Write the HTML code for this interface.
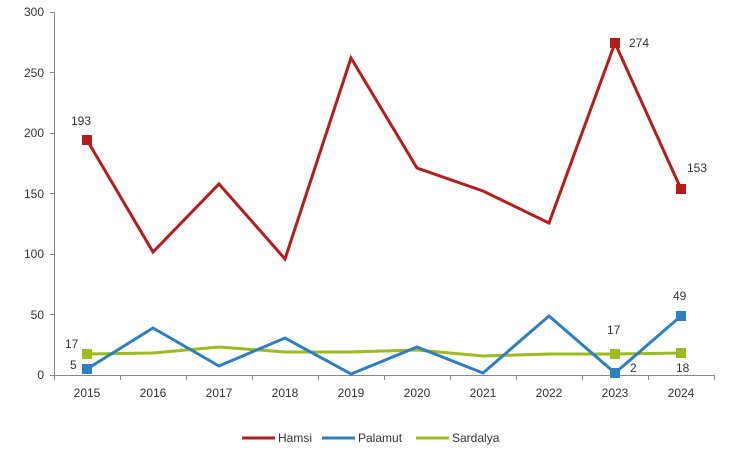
<!DOCTYPE html>
<html><head><style>body{margin:0;background:#fff}svg{display:block}text{font-family:"Liberation Sans",sans-serif;font-size:12px;fill:#333}</style></head><body>
<svg width="750" height="467" viewBox="0 0 750 467">
<g stroke="#888" stroke-width="1" fill="none">
<line x1="54.5" y1="12" x2="54.5" y2="375"/>
<line x1="54" y1="375.5" x2="714" y2="375.5"/>
<line x1="50" y1="12.5" x2="54" y2="12.5"/><line x1="50" y1="72.5" x2="54" y2="72.5"/><line x1="50" y1="133.5" x2="54" y2="133.5"/><line x1="50" y1="193.5" x2="54" y2="193.5"/><line x1="50" y1="254.5" x2="54" y2="254.5"/><line x1="50" y1="314.5" x2="54" y2="314.5"/><line x1="50" y1="375.5" x2="54" y2="375.5"/>
<line x1="54.5" y1="375" x2="54.5" y2="380"/><line x1="120.5" y1="375" x2="120.5" y2="380"/><line x1="186.5" y1="375" x2="186.5" y2="380"/><line x1="252.5" y1="375" x2="252.5" y2="380"/><line x1="318.5" y1="375" x2="318.5" y2="380"/><line x1="384.5" y1="375" x2="384.5" y2="380"/><line x1="450.5" y1="375" x2="450.5" y2="380"/><line x1="516.5" y1="375" x2="516.5" y2="380"/><line x1="582.5" y1="375" x2="582.5" y2="380"/><line x1="648.5" y1="375" x2="648.5" y2="380"/><line x1="714.5" y1="375" x2="714.5" y2="380"/>
</g>
<g text-anchor="end"><text x="44" y="16">300</text><text x="44" y="77">250</text><text x="44" y="137">200</text><text x="44" y="198">150</text><text x="44" y="258">100</text><text x="44" y="319">50</text><text x="44" y="379">0</text></g>
<g text-anchor="middle"><text x="87" y="397">2015</text><text x="153" y="397">2016</text><text x="219" y="397">2017</text><text x="285" y="397">2018</text><text x="351" y="397">2019</text><text x="417" y="397">2020</text><text x="483" y="397">2021</text><text x="549" y="397">2022</text><text x="615" y="397">2023</text><text x="681" y="397">2024</text></g>
<polyline fill="none" stroke="#9bbb1f" stroke-width="3" points="87,354 153,353 219,347 285,352 351,352 417,350 483,356 549,354 615,354 681,353"/>
<polyline fill="none" stroke="#2e7fc1" stroke-width="3" points="87,369 153,328 219,366 285,338 351,374 417,347 483,373 549,316 615,373 681,316"/>
<polyline fill="none" stroke="#b51d1d" stroke-width="3" points="87,140 153,252 219,184 285,259 351,58 417,168 483,191 549,223 615,43 681,189"/>
<g fill="#b51d1d"><rect x="82" y="135" width="10" height="10"/><rect x="610" y="38" width="10" height="10"/><rect x="676" y="184" width="10" height="10"/></g>
<g fill="#2e7fc1"><rect x="82" y="364" width="10" height="10"/><rect x="610" y="368" width="10" height="10"/><rect x="676" y="311" width="10" height="10"/></g>
<g fill="#9bbb1f"><rect x="82" y="349" width="10" height="10"/><rect x="610" y="349" width="10" height="10"/><rect x="676" y="348" width="10" height="10"/></g>
<text x="71" y="125">193</text><text x="629" y="47">274</text><text x="687" y="172">153</text>
<text x="65" y="348">17</text><text x="70" y="369">5</text><text x="607" y="334">17</text><text x="630" y="372">2</text><text x="673" y="300">49</text><text x="676" y="372">18</text>
<line x1="242" y1="438" x2="275" y2="438" stroke="#b51d1d" stroke-width="3"/><text x="278" y="442">Hamsi</text>
<line x1="322" y1="438" x2="355" y2="438" stroke="#2e7fc1" stroke-width="3"/><text x="358" y="442">Palamut</text>
<line x1="416" y1="438" x2="449" y2="438" stroke="#9bbb1f" stroke-width="3"/><text x="452" y="442">Sardalya</text>
</svg></body></html>
